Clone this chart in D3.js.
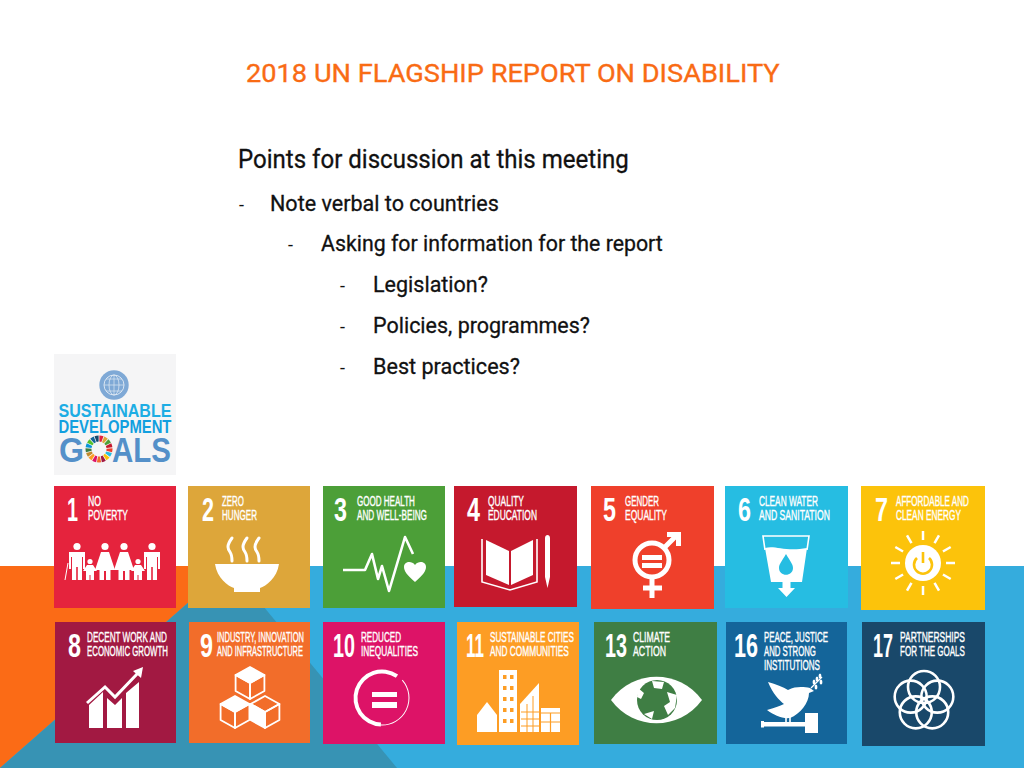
<!DOCTYPE html>
<html>
<head>
<meta charset="utf-8">
<title>2018 UN Flagship Report on Disability</title>
<script src="https://d3js.org/d3.v7.min.js"></script>
<style>
  html, body { margin: 0; padding: 0; background: #fff; }
  svg { display: block; }
</style>
</head>
<body>
<svg id="slide" width="1024" height="768"></svg>
<script>
const titleText = '2018 UN FLAGSHIP REPORT ON DISABILITY';

const outlineText = [
  'Points for discussion at this meeting',
  'Note verbal to countries',
  'Asking for information for the report',
  'Legislation?',
  'Policies, programmes?',
  'Best practices?',
];
const outlineLevel = [0, 1, 2, 3, 3, 3];

const goalNumbers = [1, 2, 3, 4, 5, 6, 7, 8, 9, 10, 11, 13, 16, 17];
const goalLabels = [
  ['NO', 'POVERTY'],
  ['ZERO', 'HUNGER'],
  ['GOOD HEALTH', 'AND WELL-BEING'],
  ['QUALITY', 'EDUCATION'],
  ['GENDER', 'EQUALITY'],
  ['CLEAN WATER', 'AND SANITATION'],
  ['AFFORDABLE AND', 'CLEAN ENERGY'],
  ['DECENT WORK AND', 'ECONOMIC GROWTH'],
  ['INDUSTRY, INNOVATION', 'AND INFRASTRUCTURE'],
  ['REDUCED', 'INEQUALITIES'],
  ['SUSTAINABLE CITIES', 'AND COMMUNITIES'],
  ['CLIMATE', 'ACTION'],
  ['PEACE, JUSTICE', 'AND STRONG', 'INSTITUTIONS'],
  ['PARTNERSHIPS', 'FOR THE GOALS'],
];
const goalColors = ['#e5233d', '#dda63a', '#4c9f38', '#c5192d', '#ef402b', '#26bde2', '#fcc30b',
  '#a21942', '#f26d2a', '#dd1367', '#fd9d24', '#3f7e44', '#14659a', '#19486a'];

// the logo wheel has all 17 goals, three of them have no tile on this slide
const wheelColors = ['#e5233d', '#dda63a', '#4c9f38', '#c5192d', '#ef402b', '#26bde2', '#fcc30b', '#a21942',
  '#f26d2a', '#dd1367', '#fd9d24', '#bf8b2e', '#3f7e44', '#0a97d9', '#56c02b', '#14659a', '#19486a'];

// layout, one entry per tile
const columnNudge = [0, -0.6, -0.2, -3.8, -1.4, -2, -0.6, 1, 0.4, -0.2, -0.8, 1.6, -1, 0.4];
const tileW = [122, 122, 122, 123, 123, 123, 124, 121, 121, 122, 122, 123, 121, 123];
const tileH = [122, 122, 122, 121, 123, 122, 124, 121, 121, 122, 123, 122, 122, 124];
const numberX = [13, 14, 11, 13, 12, 13, 14, 13, 11, 10, 9, 11, 8, 11];
const numberW = [11, 12, 13, 13, 13, 13, 13, 13, 13, 22, 18, 22, 24, 20];
const labelX = [34, 34, 34, 34, 34, 34, 35, 32, 28, 38, 33, 39, 38, 38];
const labelW = [
  [13, 40], [22, 35], [58, 70], [36, 49], [34, 42], [59, 71], [73, 65],
  [80, 81], [87, 86], [40, 57], [84, 79], [37, 33], [64, 52, 56], [65, 65],
];

const svg = d3.select('#slide');
const white = '#fff';

// squeeze a text horizontally so it spans the given width
const fitText = (node, x, y, width) => {
  const k = width / node.getComputedTextLength();
  d3.select(node).attr('transform', `translate(${x},${y}) scale(${k},1)`);
};

// background shapes
const bg = svg.append('g');
bg.append('rect').attr('y', 566).attr('width', 1024).attr('height', 202).attr('fill', '#35acdd');
bg.append('path').attr('d', 'M0,566H230L0,768Z').attr('fill', '#fb6b16');
bg.append('path').attr('d', 'M0,768L230,566L397,768Z').attr('fill', '#3793b4');

// title + outline
svg.append('text')
  .attr('font-family', 'Roboto')
  .attr('font-size', 25.5)
  .attr('fill', '#f96b14')
  .attr('stroke', '#f96b14')
  .attr('stroke-width', 0.35)
  .text(titleText)
  .each(function () { fitText(this, 246, 82, 534); });

const textX = [238, 270, 321, 373];
const dashX = [null, 239, 288, 340];
const textBaseline = [167.5, 210.5, 251, 292, 333, 374];
const textWidth = [391, 229, 342, 115, 217, 147];
const textSize = [25, 22.5, 22.5, 22.5, 22.5, 22.5];

const outline = svg.append('g').attr('font-family', 'Roboto').attr('fill', '#111');
outline.selectAll('text.line')
  .data(outlineText)
  .enter()
  .append('text')
  .attr('class', 'line')
  .attr('font-size', (d, i) => textSize[i])
  .attr('stroke', '#111')
  .attr('stroke-width', 0.3)
  .text((d) => d)
  .each(function (d, i) { fitText(this, textX[outlineLevel[i]], textBaseline[i], textWidth[i]); });
outline.selectAll('text.dash')
  .data(outlineText.filter((d, i) => outlineLevel[i] > 0))
  .enter()
  .append('text')
  .attr('class', 'dash')
  .attr('x', (d, i) => dashX[outlineLevel[i + 1]])
  .attr('y', (d, i) => textBaseline[i + 1])
  .attr('font-size', 18)
  .text('-');

// SDG logo
const logo = svg.append('g').attr('transform', 'translate(54,354)');
logo.append('rect').attr('width', 122).attr('height', 121).attr('fill', '#f5f5f6');
logo.append('circle').attr('cx', 60).attr('cy', 31).attr('r', 14.7).attr('fill', '#7fa9d6');
logo.append('circle').attr('cx', 60).attr('cy', 31).attr('r', 10).attr('fill', 'none').attr('stroke', '#dbe6f2').attr('stroke-width', 1);
logo.append('ellipse').attr('cx', 60).attr('cy', 31).attr('rx', 5).attr('ry', 10).attr('fill', 'none').attr('stroke', '#dbe6f2').attr('stroke-width', 0.8);
logo.append('path').attr('d', 'M60,21V41M50,31H70M52,25H68M52,37H68').attr('stroke', '#dbe6f2').attr('stroke-width', 0.7);

const logoFont = "'Liberation Sans', Arial, sans-serif";
[['SUSTAINABLE', 4.5, 63, 113, 17.5, '#1dade4'], ['DEVELOPMENT', 4.5, 79, 113, 17.5, '#129fdf'],
  ['G', 5, 108, 25, 34.5, '#5490c9'], ['ALS', 58, 108, 59, 34.5, '#5490c9']].forEach(([txt, x, y, w, size, c]) => {
  logo.append('text')
    .attr('font-family', logoFont)
    .attr('font-weight', 700)
    .attr('font-size', size)
    .attr('fill', c)
    .text(txt)
    .each(function () { fitText(this, x, y, w); });
});

const wheelArc = d3.arc().innerRadius(7.5).outerRadius(13.5);
logo.append('g')
  .attr('transform', 'translate(45,95)')
  .selectAll('path')
  .data(d3.pie().sort(null).padAngle(0.05)(wheelColors.map(() => 1)))
  .enter()
  .append('path')
  .attr('d', wheelArc)
  .attr('fill', (d, i) => wheelColors[i]);

// pictograms, drawn in tile coordinates (tile is about 122 wide)
const icons = {
  1(g) {
    const adult = (x, dress) => {
      g.append('circle').attr('cx', x).attr('cy', 60.5).attr('r', 3.6).attr('fill', white);
      if (dress) {
        g.append('path').attr('fill', white).attr('d', `M${x - 4},66H${x + 4}L${x + 10},84H${x + 5.5}V94H${x + 1}V85H${x - 1}V94H${x - 5.5}V84H${x - 10}Z`);
      } else {
        g.append('path').attr('fill', white).attr('d', `M${x - 8},66H${x + 8}V83H${x + 6}V71H${x + 5}V94H${x + 0.8}V81H${x - 0.8}V94H${x - 5}V71H${x - 6}V83H${x - 8}Z`);
      }
    };
    const child = (x) => {
      g.append('circle').attr('cx', x).attr('cy', 75.5).attr('r', 2.6).attr('fill', white);
      g.append('path').attr('fill', white).attr('d', `M${x - 3},79H${x + 3}L${x + 7},85H${x + 4}V94H${x + 0.5}V89H${x - 0.5}V94H${x - 4}V85H${x - 7}Z`);
    };
    adult(23); child(36); adult(51, true); adult(70, true); child(84); adult(98);
    g.append('path').attr('d', 'M14,77L11,94').attr('stroke', white).attr('stroke-width', 1);
  },
  2(g) {
    g.append('path').attr('fill', white).attr('d', 'M27,78H91C89,92 78,100 72,102V106H46V102C40,100 29,92 27,78Z');
    [42, 57, 69].forEach((x) => {
      g.append('path').attr('fill', 'none').attr('stroke', white).attr('stroke-width', 3).attr('stroke-linecap', 'round')
        .attr('d', `M${x + 2},52C${x - 4},60 ${x - 2},63 ${x},66C${x + 2},69 ${x + 2},72 ${x + 2},75`);
    });
  },
  3(g) {
    g.append('path').attr('fill', 'none').attr('stroke', white).attr('stroke-width', 2.6).attr('stroke-linejoin', 'round')
      .attr('d', 'M20,84H42L49,68L55,93L59,80L66,105L82,51L90,68');
    g.append('path').attr('fill', white).attr('d', 'M92,96C84,89 81,85 81,81C81,76 88,74 92,79C96,74 103,76 103,81C103,85 100,89 92,96Z');
  },
  4(g) {
    g.append('path').attr('fill', white).attr('d', 'M32,54L55,65V99L32,89Z');
    g.append('path').attr('fill', white).attr('d', 'M57,65L79,54V89L57,99Z');
    g.append('path').attr('fill', 'none').attr('stroke', white).attr('stroke-width', 1.6).attr('d', 'M28,53V96L56,104L83,96V53');
    g.append('path').attr('fill', white).attr('d', 'M91,52C91,48 96,48 96,52V91L93.5,102L91,91Z');
  },
  5(g) {
    g.append('circle').attr('cx', 61).attr('cy', 74).attr('r', 17).attr('fill', 'none').attr('stroke', white).attr('stroke-width', 5);
    g.append('path').attr('fill', white).attr('d', 'M51,69H71V74H51ZM51,77H71V82H51Z');
    g.append('path').attr('stroke', white).attr('stroke-width', 5).attr('d', 'M61,91V112M52,102H71M73,62L86,49');
    g.append('path').attr('fill', white).attr('d', 'M76,46H90V60H85V51H76Z');
  },
  6(g, color) {
    g.append('path').attr('fill', white).attr('d', 'M40,62C50,59 60,66 82,62L77,96H46Z');
    g.append('path').attr('fill', 'none').attr('stroke', white).attr('stroke-width', 1.6).attr('d', 'M40,64L38,50H84L82,64');
    g.append('path').attr('fill', white).attr('d', 'M57.5,96H65.5V102H70L61.5,111L53,102H57.5Z');
    g.append('path').attr('fill', color).attr('d', 'M61,68C57,75 54,78 54,82C54,91 68,91 68,82C68,78 65,75 61,68Z');
  },
  7(g, color) {
    g.append('circle').attr('cx', 62).attr('cy', 77).attr('r', 18).attr('fill', white);
    d3.range(12).forEach((k) => {
      const a = k * Math.PI / 6;
      g.append('line').attr('stroke', white).attr('stroke-width', 2.5)
        .attr('x1', 62 + 23 * Math.sin(a)).attr('y1', 77 - 23 * Math.cos(a))
        .attr('x2', 62 + 32 * Math.sin(a)).attr('y2', 77 - 32 * Math.cos(a));
    });
    g.append('path').attr('fill', 'none').attr('stroke', color).attr('stroke-width', 2.6)
      .attr('d', 'M56,72A9,9 0 1 0 68,72M62,66V77');
  },
  8(g) {
    g.append('path').attr('fill', white).attr('d', 'M34,83L48,70V106H34ZM52,76L60,83L67,76V106H52ZM71,71L84,60V106H71Z');
    g.append('path').attr('fill', 'none').attr('stroke', white).attr('stroke-width', 3).attr('d', 'M32,81L50,65L60,75L83,51');
    g.append('path').attr('fill', white).attr('d', 'M88,45L78,49L86,56Z');
  },
  9(g) {
    const cube = (cx, cy, s, fillFace) => {
      const w = s * 0.9;
      const h = s * 0.5;
      const faces = [
        `M${cx},${cy - s}L${cx + w},${cy - h}L${cx},${cy}L${cx - w},${cy - h}Z`,
        `M${cx - w},${cy - h}L${cx},${cy}V${cy + s}L${cx - w},${cy + h}Z`,
        `M${cx + w},${cy - h}L${cx},${cy}V${cy + s}L${cx + w},${cy + h}Z`,
      ];
      faces.forEach((f, i) => {
        g.append('path').attr('d', f).attr('stroke', white).attr('stroke-width', 1.8).attr('stroke-linejoin', 'round')
          .attr('fill', i === fillFace ? white : 'none');
      });
    };
    cube(61, 61, 16, 0);
    cube(46, 90, 16, 0);
    cube(76, 90, 16, 1);
  },
  10(g) {
    g.append('path').attr('transform', 'translate(59,76)').attr('fill', white)
      .attr('d', d3.arc().innerRadius(24.5).outerRadius(28.5)({ startAngle: -3.1, endAngle: 0.6 }));
    g.append('path').attr('transform', 'translate(59,76)').attr('fill', white)
      .attr('d', d3.arc().innerRadius(26.5).outerRadius(27.5)({ startAngle: 0.85, endAngle: 3.2 }));
    g.append('path').attr('fill', white).attr('d', 'M49,70H74V75H49ZM49,80H74V86H49Z');
  },
  11(g, color) {
    g.append('path').attr('fill', white).attr('d', 'M30,80L40,93V110H20V93Z');
    g.append('rect').attr('x', 42).attr('y', 48).attr('width', 18).attr('height', 62).attr('fill', white);
    g.append('path').attr('fill', white).attr('d', 'M63,110V82L82,61V110Z');
    g.append('rect').attr('x', 84).attr('y', 86).attr('width', 19).attr('height', 24).attr('fill', white);
    d3.range(5).forEach((r) => {
      [46, 53].forEach((x) => {
        g.append('rect').attr('x', x).attr('y', 53 + r * 11).attr('width', 3.5).attr('height', 4).attr('fill', color);
      });
    });
    g.append('path').attr('stroke', color).attr('stroke-width', 1).attr('d', 'M64,90H82M64,97H82M64,104H82M70,82V110M76,74V110');
    g.append('path').attr('stroke', color).attr('stroke-width', 1.2).attr('d', 'M84,91H103M84,100H103M93.5,91V110');
  },
  13(g, color) {
    g.append('path').attr('fill', white).attr('d', 'M17,78C40,47 85,47 108,78C85,109 40,109 17,78Z');
    g.append('circle').attr('cx', 63).attr('cy', 78).attr('r', 20).attr('fill', color);
    g.append('path').attr('fill', white).attr('d', 'M58,59L70,60L68,67L60,66ZM73,70L83,73L81,86L74,93L70,84L76,80ZM44,66L50,71L47,77L43,75ZM50,92L60,89L58,97Z');
  },
  16(g) {
    g.append('path').attr('fill', white).attr('d', 'M42,60C50,62 57,65 62,68C70,64 78,65 84,66L88,69L83,71C83,81 74,92 64,96C56,97 48,93 41,88C48,86 54,84 58,82C53,78 47,72 42,60Z');
    g.append('path').attr('fill', 'none').attr('stroke', white).attr('stroke-width', 1.2).attr('d', 'M85,66L96,55');
    [[88, 60], [91, 57], [94, 54], [90, 65], [95, 60]].forEach(([x, y]) => {
      g.append('ellipse').attr('cx', x).attr('cy', y).attr('rx', 1.4).attr('ry', 2.6).attr('fill', white);
    });
    g.append('path').attr('stroke', white).attr('stroke-width', 1.6).attr('d', 'M60,94V101M64,94V101');
    g.append('rect').attr('x', 35).attr('y', 100).attr('width', 46).attr('height', 4.5).attr('fill', white);
    g.append('rect').attr('x', 35).attr('y', 99).attr('width', 3).attr('height', 6.5).attr('fill', white);
    g.append('rect').attr('x', 79).attr('y', 91).attr('width', 13).attr('height', 20).attr('fill', white);
  },
  17(g) {
    d3.range(5).forEach((k) => {
      const a = k * 2 * Math.PI / 5;
      g.append('circle')
        .attr('cx', 62 + 14 * Math.sin(a))
        .attr('cy', 79 - 14 * Math.cos(a))
        .attr('r', 16)
        .attr('fill', 'none')
        .attr('stroke', white)
        .attr('stroke-width', 2.6);
    });
  },
};

// tiles sit on a 7 column grid, two rows
const column = d3.scaleBand().domain(d3.range(7)).range([54, 54 + 7 * 134.6]);
const row = d3.scaleBand().domain([0, 1]).range([486, 486 + 2 * 136]);

const tiles = svg.selectAll('g.tile')
  .data(goalNumbers)
  .enter()
  .append('g')
  .attr('class', 'tile')
  .attr('transform', (d, i) => `translate(${column(i % 7) + columnNudge[i]},${row(Math.floor(i / 7))})`);

tiles.append('rect')
  .attr('width', (d, i) => tileW[i])
  .attr('height', (d, i) => tileH[i])
  .attr('fill', (d, i) => goalColors[i]);

const labelFont = "'Liberation Sans', Arial, sans-serif";

tiles.append('text')
  .attr('font-family', labelFont)
  .attr('font-weight', 700)
  .attr('font-size', 33.5)
  .attr('fill', white)
  .text((d) => d)
  .each(function (d, i) { fitText(this, numberX[i], 35, numberW[i]); });

tiles.each(function (d, i) {
  const g = d3.select(this);
  g.selectAll('text.label')
    .data(goalLabels[i])
    .enter()
    .append('text')
    .attr('class', 'label')
    .attr('font-family', labelFont)
    .attr('font-size', 15)
    .attr('stroke', white)
    .attr('stroke-width', 0.4)
    .attr('fill', white)
    .text((t) => t)
    .each(function (t, k) { fitText(this, labelX[i], 20 + k * 14, labelW[i][k]); });
  icons[d](g, goalColors[i]);
});
</script>
</body>
</html>
